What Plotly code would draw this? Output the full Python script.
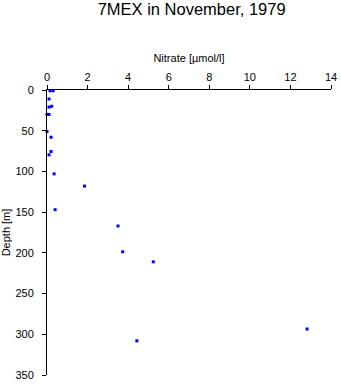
import plotly.graph_objects as go

nitrate = [0.15, 0.3, 0.1, 0.23, 0.1, 0.0, 0.1, 0.0, 0.2, 0.2, 0.1, 0.35, 1.85, 0.4, 3.5, 3.73, 5.24, 12.82, 4.43]
depth = [1, 1, 11, 20, 21, 30, 30, 51, 58, 75.5, 79.6, 103, 118, 147, 167, 198.7, 211, 293.5, 308]

x_ticks = [0, 2, 4, 6, 8, 10, 12, 14]
y_ticks = [0, 50, 100, 150, 200, 250, 300, 350]

fig = go.Figure()
fig.add_trace(go.Scatter(
    x=nitrate, y=depth, mode="markers",
    marker=dict(symbol="square", size=3, color="#0000ff", line=dict(width=0)),
    showlegend=False, cliponaxis=False,
))

font = "Liberation Sans, Arial, sans-serif"
fig.update_layout(
    width=341, height=384,
    margin=dict(l=47, r=10, t=90, b=9, autoexpand=False),
    paper_bgcolor="white", plot_bgcolor="white",
    font=dict(family=font, size=11, color="black"),
    title=dict(text="7MEX in November, 1979", x=0.562, xanchor="center",
               y=0.976, yanchor="middle", font=dict(size=16.5, family=font)),
    xaxis=dict(side="top", range=[0, 14], tickvals=x_ticks, showgrid=False,
               zeroline=False, showline=True, linecolor="black", linewidth=1,
               ticks="outside", ticklen=4, tickcolor="black", automargin=False,
               title=dict(text="Nitrate [µmol/l]", standoff=5, font=dict(size=11))),
    yaxis=dict(range=[350, 0], tickvals=y_ticks, showgrid=False,
               zeroline=False, showline=True, linecolor="black", linewidth=1,
               ticks="outside", ticklen=4, tickcolor="black", ticklabelstandoff=6,
               automargin=False,
               title=dict(text="Depth [m]", standoff=4, font=dict(size=11))),
)

fig.write_html("out.html")
